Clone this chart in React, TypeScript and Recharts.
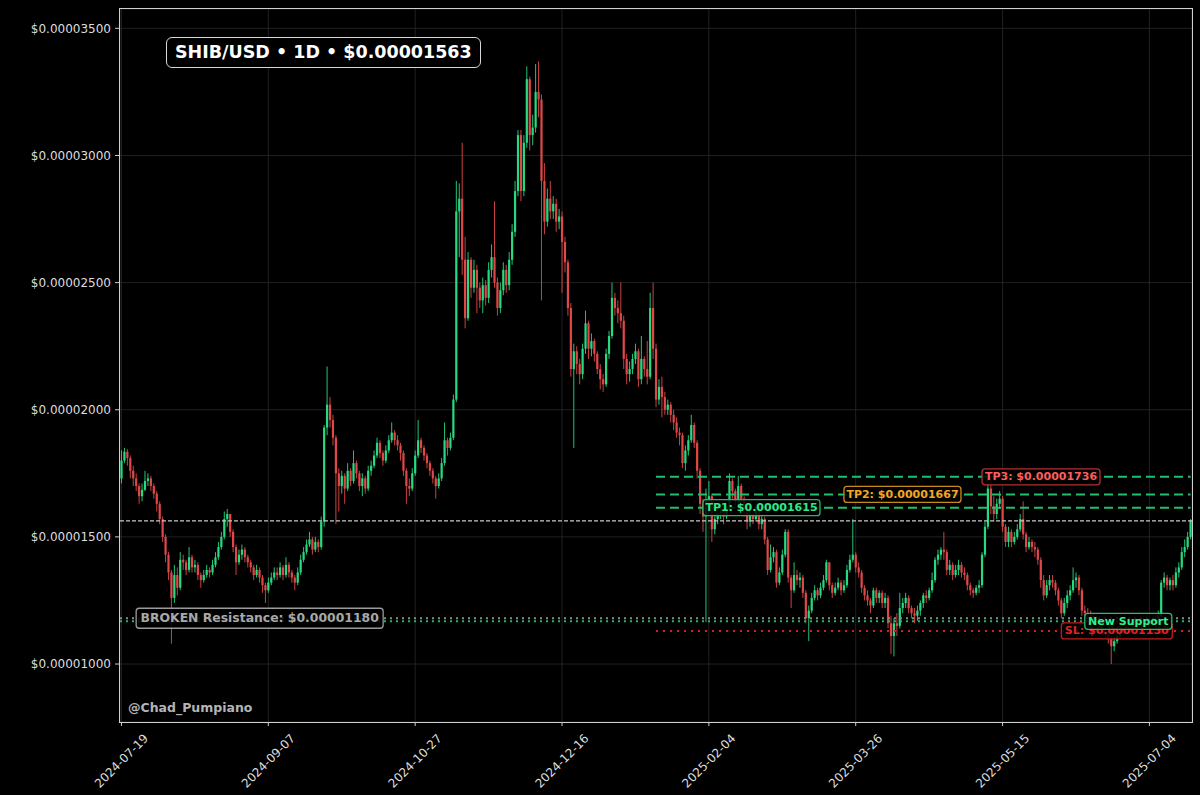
import {
  ComposedChart,
  Bar,
  XAxis,
  YAxis,
  CartesianGrid,
  ReferenceLine,
  ReferenceDot,
} from 'recharts'

// ─── Data ─────────────────────────────────────────────────────────────────────
// SHIB/USD daily candles, prices in micro-dollars (1 = $0.000001)

const START_DATE = '2024-07-19'
const FIRST_OPEN = 17.3

const closes = [
  18.0, 18.35, 18.1, 17.6, 17.3, 17.0, 16.6, 16.85, 17.2, 17.3,
  17.0, 16.7, 16.3, 15.7, 15.0, 14.3, 13.6, 12.6, 13.5, 13.0,
  14.1, 14.0, 13.7, 14.2, 13.8, 13.9, 13.5, 13.3, 13.5, 13.7,
  13.6, 13.9, 14.2, 14.6, 15.0, 15.7, 15.9, 15.2, 14.6, 14.0,
  14.3, 14.5, 14.2, 14.0, 13.8, 13.5, 13.7, 13.4, 13.1, 12.9,
  13.2, 13.4, 13.6, 13.5, 13.8, 13.5, 13.9, 13.6, 13.4, 13.2,
  13.6, 14.1, 14.4, 14.7, 14.9, 14.5, 14.8, 14.6, 15.6, 19.3,
  20.2, 19.6, 18.9, 17.5, 17.0, 17.4, 16.9, 17.6, 17.2, 17.9,
  17.5, 17.0, 17.3, 16.9, 17.6, 17.8, 18.2, 18.7, 18.3, 18.0,
  18.4, 18.8, 19.1, 18.8, 18.6, 18.3, 17.6, 17.0, 16.9, 17.5,
  18.2, 18.8, 18.5, 18.2, 17.9, 17.6, 17.3, 17.0, 17.3, 17.9,
  18.8, 18.5, 18.9, 20.4, 27.8, 28.3, 25.9, 23.6, 25.9, 24.8,
  25.5, 24.8, 24.3, 24.9, 24.4, 25.5, 26.0, 25.0, 24.0, 24.7,
  25.5, 24.9, 25.9, 27.0, 28.6, 30.8, 28.6, 30.5, 33.0, 30.8,
  31.1, 32.5, 32.2, 29.0, 27.4, 28.3, 27.8, 28.1, 27.4, 27.6,
  26.6, 25.8, 24.0, 21.6, 22.3, 21.8, 21.4, 22.4, 23.4, 22.4,
  22.7, 22.2, 21.6, 21.2, 21.0, 22.2, 22.9, 24.4, 24.0, 23.8,
  23.5, 22.0, 21.4, 21.6, 22.0, 22.3, 21.2, 22.0, 21.6, 21.3,
  24.0, 22.4, 20.4, 20.9, 20.5, 20.0, 20.2, 19.8, 19.5, 19.1,
  19.0, 17.9, 18.4, 18.8, 19.4, 18.7, 17.6, 16.3, 15.8, 16.4,
  16.6, 15.3, 15.7, 15.9, 16.1, 15.8, 16.1, 17.2, 16.8, 16.4,
  17.0, 16.5, 16.0, 15.6, 15.9, 15.7, 16.1, 15.5, 15.7, 14.9,
  13.7, 14.2, 14.4, 13.2, 13.6, 14.3, 15.2, 13.4, 12.9, 13.5,
  13.3, 13.4, 12.8, 11.8, 12.1, 12.6, 12.9, 12.7, 13.0, 13.3,
  14.0, 13.1, 12.8, 13.0, 13.2, 12.9, 13.1, 13.7, 14.1, 14.3,
  13.8, 13.6, 13.0, 12.7, 12.5, 12.3, 12.9, 12.6, 12.8, 12.4,
  12.6, 11.6, 11.1, 11.6, 11.5, 12.2, 12.4, 12.6, 12.2, 12.0,
  11.9, 12.1, 12.4, 12.7, 12.6, 12.9, 13.3, 14.1, 14.3, 14.5,
  14.4, 13.7, 13.9, 13.5, 13.7, 13.9, 13.6, 13.5, 13.1, 12.9,
  12.8, 13.0, 13.1, 14.3, 15.4, 16.9, 16.2, 15.9, 16.3, 16.5,
  15.4, 14.8, 15.2, 14.8, 15.0, 15.3, 15.7, 15.1, 14.6, 14.8,
  14.6, 14.5, 14.1, 13.3, 12.7, 13.1, 13.3, 13.2, 12.9, 12.5,
  12.0, 12.4, 12.7, 12.9, 13.3, 13.4, 12.9, 12.1, 12.0, 11.95,
  11.9, 11.8, 11.75, 11.5, 11.3, 11.2, 11.0, 10.7, 10.9, 11.1,
  11.3, 11.5, 11.4, 11.6, 11.5, 11.7, 11.6, 11.5, 11.6, 11.8,
  11.7, 11.6, 11.8, 11.9, 13.2, 13.4, 13.1, 13.3, 13.1, 13.6,
  13.8, 14.4, 14.6, 15.0, 15.63,
]

const highs = [
  18.4, 18.5, 18.45, 18.2, 17.8, 17.5, 17.1, 17.1, 17.6, 17.5,
  17.4, 17.1, 16.8, 16.4, 15.8, 15.1, 14.4, 13.7, 13.9, 13.8,
  14.4, 14.3, 14.1, 14.6, 14.3, 14.1, 14.0, 13.6, 13.7, 13.9,
  13.8, 14.1, 14.4, 14.8, 15.2, 16.0, 16.1, 15.9, 15.3, 14.7,
  14.5, 14.7, 14.6, 14.3, 14.1, 13.9, 13.9, 13.8, 13.5, 13.2,
  13.4, 13.6, 13.8, 13.8, 14.0, 13.9, 14.2, 14.0, 13.7, 13.5,
  13.8, 14.3, 14.6, 14.9, 15.2, 15.0, 15.0, 14.9, 15.8, 19.4,
  21.7, 20.5, 19.8, 19.0, 17.7, 17.6, 17.5, 17.9, 17.7, 18.4,
  18.0, 17.6, 17.5, 17.4, 17.8, 18.0, 18.4, 18.9, 18.8, 18.4,
  18.6, 19.0, 19.5, 19.2, 19.0, 18.7, 18.4, 17.7, 17.3, 17.7,
  18.4, 19.6, 18.9, 18.6, 18.3, 18.0, 17.7, 17.4, 17.5, 18.1,
  19.5, 18.9, 19.1, 20.6, 29.0, 28.9, 30.5, 26.8, 26.2, 26.0,
  25.9, 25.7, 25.0, 25.2, 25.1, 25.8, 26.5, 28.2, 25.2, 25.0,
  25.8, 25.7, 26.2, 27.3, 29.0, 31.0, 31.0, 30.8, 33.5, 33.1,
  31.6, 33.6, 33.7, 32.4, 29.7, 28.7, 29.0, 28.4, 28.3, 27.9,
  27.8, 26.8, 25.9, 24.2, 22.6, 22.5, 22.0, 22.6, 23.9, 23.5,
  23.0, 22.8, 22.3, 21.8, 21.4, 22.4, 23.1, 25.0, 24.6, 24.3,
  25.0, 23.7, 22.2, 21.9, 22.2, 22.6, 22.4, 22.9, 22.1, 22.7,
  24.6, 25.0, 22.6, 21.2, 21.3, 20.7, 20.4, 20.3, 20.0, 19.7,
  19.3, 19.1, 18.6, 19.0, 19.8, 19.5, 18.8, 17.7, 16.5, 16.9,
  17.2, 16.7, 15.9, 16.1, 16.3, 16.2, 16.3, 17.5, 17.3, 16.9,
  17.4, 17.1, 16.6, 16.1, 16.1, 16.0, 16.3, 16.2, 15.9, 15.8,
  15.0, 14.7, 14.6, 14.5, 13.8, 14.5, 15.3, 15.3, 13.5, 14.0,
  13.7, 13.6, 13.5, 12.9, 12.3, 12.8, 13.1, 13.0, 13.2, 13.5,
  14.1, 14.0, 13.2, 13.2, 13.4, 13.3, 13.3, 13.9, 14.3, 15.7,
  14.4, 14.0, 13.7, 13.1, 12.9, 12.6, 13.0, 13.0, 12.9, 12.9,
  12.8, 12.7, 11.9, 11.8, 12.0, 12.8, 12.6, 12.8, 12.7, 12.3,
  12.2, 12.3, 12.5, 12.8, 12.9, 13.0, 13.6, 14.2, 14.5, 14.6,
  15.2, 14.5, 14.1, 14.0, 13.9, 14.1, 14.0, 13.8, 13.6, 13.2,
  13.0, 13.1, 13.3, 14.4, 15.6, 17.5, 17.4, 16.6, 16.5, 16.8,
  16.6, 15.5, 15.4, 15.3, 15.2, 15.5, 15.9, 16.4, 15.2, 15.0,
  14.9, 14.8, 14.6, 14.2, 13.5, 13.3, 13.5, 13.5, 13.3, 13.0,
  12.6, 12.6, 12.9, 13.1, 13.8, 13.6, 13.5, 13.0, 12.3, 12.2,
  12.1, 12.0, 11.9, 11.9, 11.6, 11.4, 11.3, 11.1, 11.1, 11.3,
  11.5, 11.7, 11.6, 11.7, 11.7, 11.8, 11.8, 11.7, 11.8, 11.9,
  11.9, 11.8, 11.9, 12.1, 13.3, 13.6, 13.5, 13.4, 13.5, 13.8,
  14.0, 14.6, 14.9, 15.2, 15.7,
]

const lows = [
  17.1, 17.9, 17.8, 17.3, 17.0, 16.8, 16.3, 16.4, 16.8, 17.0,
  16.8, 16.5, 16.0, 15.5, 14.8, 14.0, 13.3, 10.8, 12.4, 12.7,
  12.9, 13.7, 13.5, 13.6, 13.6, 13.6, 13.3, 13.0, 13.2, 13.4,
  13.4, 13.5, 13.8, 14.1, 14.5, 14.9, 15.4, 15.0, 14.4, 13.5,
  13.9, 14.1, 14.0, 13.8, 13.6, 13.3, 13.4, 13.2, 12.8, 12.4,
  12.8, 13.1, 13.3, 13.3, 13.4, 13.3, 13.4, 13.4, 13.2, 12.9,
  13.1, 13.5, 14.0, 14.3, 14.6, 14.3, 14.4, 14.4, 14.5, 15.4,
  19.0, 19.3, 18.6, 15.5, 16.0, 16.7, 16.3, 16.8, 17.0, 17.1,
  17.3, 16.8, 16.6, 16.7, 16.8, 17.4, 17.7, 18.1, 18.1, 17.8,
  17.9, 18.3, 18.7, 18.6, 18.4, 18.0, 17.4, 16.3, 16.6, 16.8,
  17.4, 18.1, 18.3, 18.0, 17.7, 17.4, 17.1, 16.5, 16.9, 17.2,
  17.8, 18.2, 18.4, 18.8, 20.3, 26.0, 25.3, 23.2, 23.5, 24.4,
  24.6, 23.8, 24.0, 23.8, 24.1, 24.2, 25.2, 24.8, 23.7, 23.8,
  24.5, 24.6, 24.7, 25.7, 26.8, 28.4, 28.2, 28.4, 30.3, 30.2,
  30.4, 30.9, 31.5, 24.3, 26.9, 27.2, 27.5, 27.5, 27.0, 27.1,
  24.6, 25.4, 23.7, 21.3, 18.5, 21.4, 21.0, 21.2, 22.2, 22.0,
  22.1, 21.9, 21.4, 20.8, 20.7, 20.9, 22.0, 22.8, 23.7, 23.4,
  23.2, 21.6, 21.0, 21.1, 21.4, 21.8, 20.9, 21.0, 21.3, 21.0,
  21.2, 22.0, 20.1, 20.2, 19.7, 19.8, 19.8, 19.5, 19.2, 18.9,
  18.6, 17.7, 17.6, 18.2, 18.7, 18.5, 17.3, 15.9, 15.2, 11.65,
  15.9, 14.8, 15.1, 15.5, 15.7, 15.5, 15.7, 16.0, 16.5, 16.2,
  16.3, 16.3, 15.8, 15.3, 15.4, 15.5, 15.6, 15.3, 15.3, 14.7,
  13.5, 13.6, 14.0, 13.0, 13.1, 13.5, 14.2, 13.2, 12.2, 12.8,
  13.1, 13.0, 12.6, 11.6, 10.9, 12.0, 12.5, 12.5, 12.6, 12.9,
  13.2, 12.9, 12.6, 12.7, 12.9, 12.7, 12.8, 13.0, 13.6, 14.0,
  13.6, 13.4, 12.8, 12.5, 12.3, 12.0, 12.2, 12.4, 12.4, 12.2,
  12.2, 11.4, 10.4, 10.3, 11.1, 11.4, 12.0, 12.2, 12.0, 11.8,
  11.6, 11.7, 11.9, 12.2, 12.4, 12.5, 12.8, 13.2, 13.9, 14.1,
  14.1, 13.5, 13.5, 13.3, 13.4, 13.5, 13.4, 13.3, 12.9, 12.7,
  12.6, 12.7, 12.8, 13.0, 14.2, 15.3, 15.9, 15.6, 15.7, 16.1,
  15.2, 14.6, 14.6, 14.6, 14.7, 14.9, 15.2, 14.9, 14.4, 14.5,
  14.4, 14.2, 13.9, 13.0, 12.5, 12.6, 12.9, 13.0, 12.7, 12.3,
  11.8, 11.9, 12.2, 12.5, 12.8, 13.0, 12.7, 11.9, 11.8, 11.8,
  11.7, 11.6, 11.5, 11.3, 11.1, 11.0, 10.8, 10.0, 10.5, 10.8,
  11.0, 11.2, 11.2, 11.3, 11.3, 11.4, 11.4, 11.3, 11.4, 11.5,
  11.5, 11.4, 11.5, 11.7, 11.8, 13.0, 12.9, 12.9, 12.9, 13.0,
  13.4, 13.7, 14.2, 14.5, 14.9,
]

const xTicks = [
  '2024-07-19', '2024-09-07', '2024-10-27', '2024-12-16',
  '2025-02-04', '2025-03-26', '2025-05-15', '2025-07-04',
]
const yTicks = [10, 15, 20, 25, 30, 35]

const LAST_PRICE = 15.63
const TP1 = 16.15
const TP2 = 16.67
const TP3 = 17.36
const SL = 11.3
const BROKEN_RES = 11.8
const NEW_SUPPORT = 11.68

// ─── Styling ──────────────────────────────────────────────────────────────────

const FONT = '"DejaVu Sans", Verdana, sans-serif'
const GREEN = '#27d982'
const RED = '#e04848'
const DAY = 86400000

const dates = closes.map((_, i) =>
  new Date(Date.parse(START_DATE) + i * DAY).toISOString().slice(0, 10)
)

const rows = closes.map((c, i) => ({
  date: dates[i],
  open: i === 0 ? FIRST_OPEN : closes[i - 1],
  close: c,
  high: highs[i],
  low: lows[i],
}))

const fmtUsd = (v: number) => `$${(v / 1e6).toFixed(8)}`

// ─── Shapes ───────────────────────────────────────────────────────────────────

const Candle = (props: any) => {
  const { x, y, width, height, payload } = props
  if (!payload || height == null) return null
  const { open, close, high, low } = payload
  const k = height / (high - low)
  const cx = x + width / 2
  const top = y + (high - Math.max(open, close)) * k
  const bot = y + (high - Math.min(open, close)) * k
  const color = close >= open ? GREEN : RED
  const bw = 2.2
  return (
    <g>
      <line x1={cx} x2={cx} y1={y} y2={y + height} stroke={color} strokeWidth={0.9} />
      <rect x={cx - bw / 2} y={top} width={bw} height={Math.max(0.8, bot - top)} fill={color} />
    </g>
  )
}

// rotated 45°, centred under the tick (matplotlib default)
const DateTick = ({ x, y, payload }: any) => {
  const cy = y + 33
  return (
    <text
      x={x}
      y={cy}
      transform={`rotate(-45 ${x} ${cy})`}
      textAnchor="middle"
      dominantBaseline="central"
      fill="#dddddd"
      fontSize={12}
      fontFamily={FONT}
    >
      {payload.value}
    </text>
  )
}

const tag = (text: string, color: string, border: string, width: number, fontSize = 11, h = 16) =>
  (p: any) => (
    <g>
      <rect
        x={p.cx}
        y={p.cy - h / 2}
        width={width}
        height={h}
        rx={3}
        fill="rgba(0,0,0,0.85)"
        stroke={border}
        strokeWidth={1.3}
      />
      <text
        x={p.cx + width / 2}
        y={p.cy + 0.5}
        textAnchor="middle"
        dominantBaseline="middle"
        fill={color}
        fontSize={fontSize}
        fontWeight="bold"
        fontFamily={FONT}
      >
        {text}
      </text>
    </g>
  )

// ─── Component ────────────────────────────────────────────────────────────────

export default function App() {
  const lineStart = dates[182]
  const lineEnd = dates[dates.length - 1]
  return (
    <div
      style={{
        position: 'fixed',
        left: 0,
        top: 0,
        width: 1200,
        height: 795,
        background: '#000',
        fontFamily: FONT,
        overflow: 'hidden',
      }}
    >
      <ComposedChart
        width={1200}
        height={795}
        data={rows}
        margin={{ top: 9, right: 8, bottom: 0, left: 10 }}
        barCategoryGap={0}
      >
        <CartesianGrid stroke="#2a2a2a" strokeWidth={0.8} />
        <XAxis
          dataKey="date"
          ticks={xTicks}
          interval={0}
          height={73}
          tick={<DateTick />}
          tickSize={4}
          tickLine={{ stroke: '#cccccc' }}
          axisLine={false}
        />
        <YAxis
          domain={[7.72, 35.76]}
          ticks={yTicks}
          allowDataOverflow
          width={110}
          tickFormatter={fmtUsd}
          tick={{ fill: '#dddddd', fontSize: 12, fontFamily: FONT }}
          tickSize={5}
          tickMargin={4}
          tickLine={{ stroke: '#cccccc' }}
          axisLine={false}
        />
        <Bar dataKey={(d: any) => [d.low, d.high]} shape={Candle} isAnimationActive={false} />

        <ReferenceLine y={LAST_PRICE} stroke="#c8c8c8" strokeWidth={1.1} strokeDasharray="4 2" />
        <ReferenceLine y={BROKEN_RES} stroke="#8a8a8a" strokeWidth={2} strokeDasharray="2 4" />
        <ReferenceLine y={NEW_SUPPORT} stroke="#1fb36c" strokeWidth={2} strokeDasharray="2 4" />
        {[TP1, TP2, TP3].map((v) => (
          <ReferenceLine
            key={v}
            segment={[{ x: lineStart, y: v }, { x: lineEnd, y: v }]}
            stroke="#20c06c"
            strokeWidth={2}
            strokeDasharray="9 5"
          />
        ))}
        <ReferenceLine
          segment={[{ x: lineStart, y: SL }, { x: lineEnd, y: SL }]}
          stroke="#d42020"
          strokeWidth={2}
          strokeDasharray="2 5"
        />

        <ReferenceDot x={dates[198]} y={TP1} r={1} shape={tag('TP1: $0.00001615', '#2ee88a', '#22b86a', 117)} />
        <ReferenceDot x={dates[246]} y={TP2} r={1} shape={tag('TP2: $0.00001667', '#f5a623', '#c98a1c', 117)} />
        <ReferenceDot x={dates[293]} y={TP3} r={1} shape={tag('TP3: $0.00001736', '#ff5c5c', '#b03030', 118)} />
        <ReferenceDot x={dates[320]} y={SL} r={1} shape={tag('SL: $0.00001130', '#e02424', '#c01c1c', 111)} />
        <ReferenceDot x={dates[328]} y={NEW_SUPPORT} r={1} shape={tag('New Support', '#2ef08e', '#22c070', 87)} />
        <ReferenceDot
          x={dates[5]}
          y={BROKEN_RES}
          r={1}
          shape={tag('BROKEN Resistance: $0.00001180', '#a8a8a8', '#9a9a9a', 247, 12.4, 20)}
        />
      </ComposedChart>

      {/* plot frame */}
      <div
        style={{
          position: 'absolute',
          left: 119,
          top: 8,
          width: 1074,
          height: 715,
          boxSizing: 'border-box',
          border: '1.5px solid #d0d0d0',
          pointerEvents: 'none',
        }}
      />

      {/* title */}
      <div
        style={{
          position: 'absolute',
          left: 166,
          top: 37,
          height: 31,
          boxSizing: 'border-box',
          padding: '0 8px',
          border: '1.5px solid #d8d8d8',
          borderRadius: 6,
          background: '#000',
          color: '#ffffff',
          fontWeight: 'bold',
          fontSize: 17.5,
          lineHeight: '28px',
          whiteSpace: 'nowrap',
        }}
      >
        SHIB/USD • 1D • $0.00001563
      </div>

      {/* watermark */}
      <div
        style={{
          position: 'absolute',
          left: 128,
          top: 700,
          color: '#b4b4b4',
          fontWeight: 'bold',
          fontSize: 12.5,
        }}
      >
        @Chad_Pumpiano
      </div>
    </div>
  )
}
